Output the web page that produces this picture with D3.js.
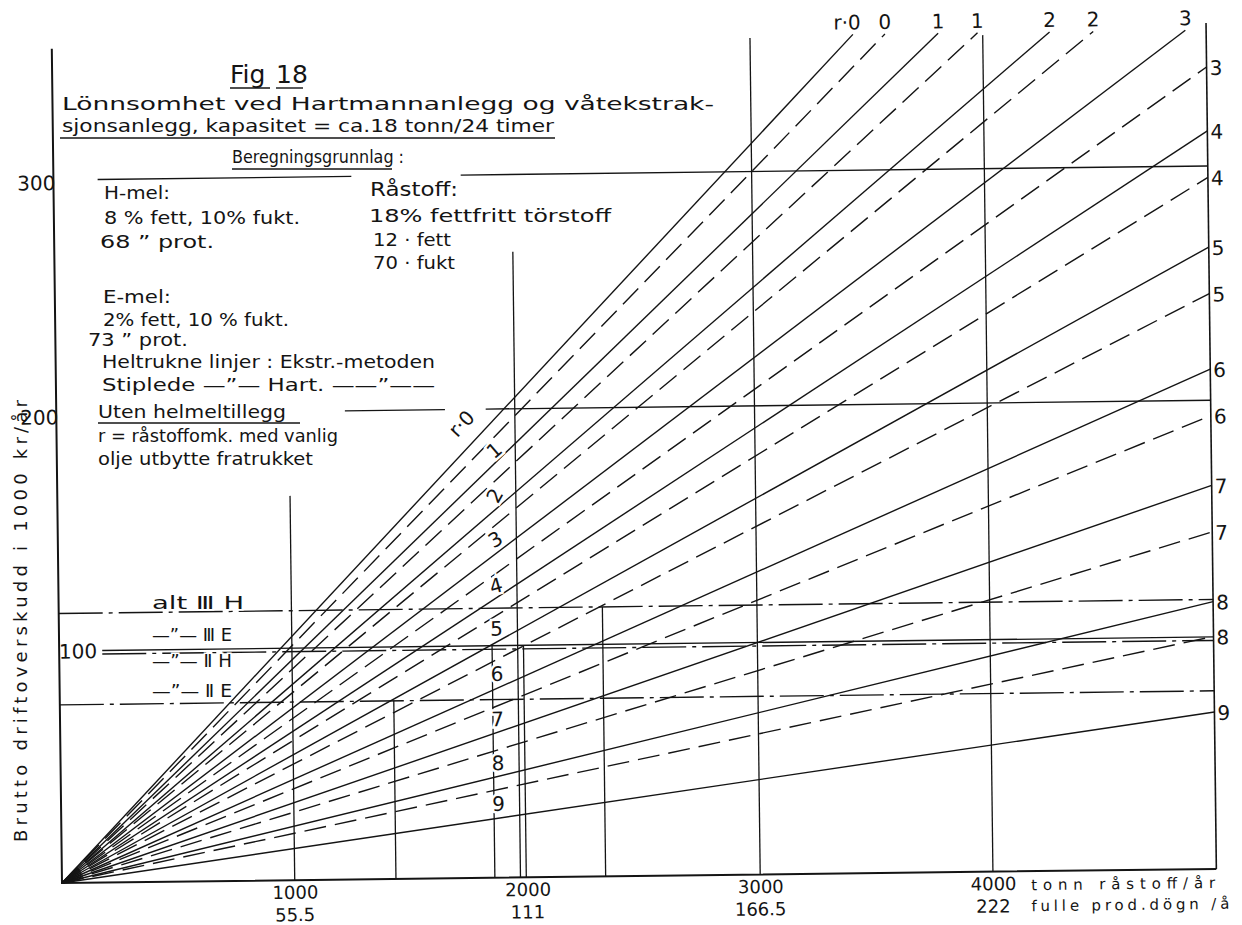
<!DOCTYPE html>
<html>
<head>
<meta charset="utf-8">
<script src="https://cdn.jsdelivr.net/npm/d3@7"></script>
<style>
  body { margin: 0; background: #fff; }
  svg { display: block; font-family: "DejaVu Sans", sans-serif; }
  text { fill: #141414; }
</style>
</head>
<body>
<script>
// r = råstoffomkostning
const rValues = [0, 1, 2, 3, 4, 5, 6, 7, 8, 9];
// brutto driftoverskudd, kr pr. tonn råstoff (heltrukne = Ekstr., stiplede = Hart.)
const ekstrSlope = [104, 94, 83.5, 73.5, 63.5, 53.5, 43, 33, 23, 13.5];
const hartSlope = [100, 90, 80, 69, 59.5, 49.5, 39, 29, 20];

const xTicks = [1000, 2000, 3000, 4000];
const xTickDays = ["55.5", "111", "166.5", "222"];
const yTicks = [100, 200, 300];

// alternativer, 1000 kr/år
const altNames = ["alt Ⅲ H", "—\u201d— Ⅲ E", "—\u201d— Ⅱ H", "—\u201d— Ⅱ E"];
const altValues = [115, 99, 97.5, 76];

// loddrette linjer: tonn/år og øvre ende (1000 kr)
const gridX = [1000, 1435, 1860, 1970, 1995, 2336, 3000, 4000];
const gridTop = [164, 76, 99, 267, 99, 115, 357, 357];

// vannrette linjer ved 300 og 200, segmenter i tonn
const line300 = [[190, 1280], [1750, 4960]];
const line200 = [[1240, 1670], [1845, 4960]];

const xMax = 4960, yTop = 358;

const width = 1242, height = 925;
const svg = d3.select("body").append("svg")
  .attr("width", width)
  .attr("height", height);

const x = d3.scaleLinear().domain([0, 4000]).range([62, 993]);
const y = d3.scaleLinear().domain([0, 300]).range([883, 180]);

// the photocopy is slightly skewed
const g = svg.append("g")
  .attr("transform", `rotate(-0.7,${x(0)},${y(0)})`)
  .attr("stroke", "#141414")
  .attr("fill", "none");

const line = d3.line().x(d => x(d[0])).y(d => y(d[1]));

// frame
g.append("path").attr("d", line([[0, 356], [0, 0], [xMax, 0]])).attr("stroke-width", 2);
g.append("path").attr("d", line([[xMax, 0], [xMax, 361]])).attr("stroke-width", 1.6);

// vertical lines
g.selectAll(".grid").data(gridX).join("path")
  .attr("class", "grid")
  .attr("d", (d, i) => line([[d, 0], [d, gridTop[i]]]))
  .attr("stroke-width", 1.3);

// horizontal 300 / 200
[line300, line200].forEach((segs, k) => {
  const v = k === 0 ? 300 : 200;
  segs.forEach(s => {
    g.append("path").attr("d", line([[s[0], v], [s[1], v]])).attr("stroke-width", 1.4);
  });
});

// alternatives
const altSolid = [false, true, false, false];
const altStart = [0, 185, 185, 0];
altValues.forEach((v, i) => {
  g.append("path")
    .attr("d", line([[altStart[i], v], [xMax, v]]))
    .attr("stroke-width", 1.4)
    .attr("stroke-dasharray", altSolid[i] ? null : "44,6,4,6");
});

function rayEnd(s) {
  const xe = Math.min(xMax, yTop / s * 1000);
  return [xe, s * xe / 1000];
}

// rays
g.selectAll(".ekstr").data(ekstrSlope).join("path")
  .attr("class", "ekstr")
  .attr("d", s => line([[0, 0], rayEnd(s)]))
  .attr("stroke-width", 1.4);

g.selectAll(".hart").data(hartSlope).join("path")
  .attr("class", "hart")
  .attr("d", s => line([[0, 0], rayEnd(s)]))
  .attr("stroke-width", 1.4)
  .attr("stroke-dasharray", "22,9");

// end labels
const tg = svg.append("g")
  .attr("transform", `rotate(-0.7,${x(0)},${y(0)})`)
  .style("font-size", "20px");

function endLabel(s, r, isEkstr) {
  const e = rayEnd(s);
  const t = tg.append("text");
  if (e[0] < xMax) {
    t.attr("x", x(e[0]) + (isEkstr && r === 0 ? 8 : 0))
      .attr("y", y(e[1]) - 5)
      .attr("text-anchor", isEkstr && r === 0 ? "end" : "middle");
  } else {
    t.attr("x", x(xMax) + 3).attr("y", y(e[1]) + 8);
  }
  t.text(isEkstr && r === 0 ? "r·0" : r);
}
ekstrSlope.forEach((s, r) => endLabel(s, r, true));
hartSlope.forEach((s, r) => endLabel(s, r, false));

// labels along the rays
const colLabelX = rValues.map(r => r === 0 ? 1740 : 1880);
const colLabelTilt = [-46, -40, -60, -30, -15, 0, 0, 0, 0, 0];
rValues.forEach(r => {
  const xv = colLabelX[r];
  const yv = r === 0 ? ekstrSlope[0] * xv / 1000 + 13
    : (ekstrSlope[r] + hartSlope[r - 1]) / 2 * xv / 1000;
  tg.append("text")
    .attr("transform", `translate(${x(xv)},${y(yv)}) rotate(${colLabelTilt[r]})`)
    .attr("text-anchor", "middle")
    .attr("dominant-baseline", "central")
    .attr("stroke", "#fff").attr("stroke-width", 5).attr("paint-order", "stroke")
    .text(r === 0 ? "r·0" : r);
});

// x axis
const xAxis = tg.append("g")
  .attr("transform", `translate(0,${y(0)})`)
  .call(d3.axisBottom(x).tickValues(xTicks).tickSize(0).tickPadding(6).tickFormat(d => d));
xAxis.select(".domain").remove();
xAxis.selectAll("text").style("font-size", "18px").style("font-family", "DejaVu Sans")
  .attr("fill", "#141414").attr("dy", "0.7em");
tg.selectAll(".days").data(xTicks).join("text")
  .attr("class", "days")
  .attr("x", d => x(d)).attr("y", y(0) + 41)
  .attr("text-anchor", "middle")
  .style("font-size", "18px")
  .text((d, i) => xTickDays[i]);
tg.append("text").attr("x", x(4000) + 38).attr("y", y(0) + 19)
  .style("font-size", "15px").attr("textLength", 184).text("tonn råstoff/år");
tg.append("text").attr("x", x(4000) + 38).attr("y", y(0) + 40)
  .style("font-size", "15px").attr("textLength", 198).text("fulle prod.dögn /å");

// y tick labels
const yTickDx = [38, 2, 2];
tg.selectAll(".ytl").data(yTicks).join("text")
  .attr("class", "ytl")
  .attr("x", (d, i) => x(0) + yTickDx[i]).attr("y", d => y(d) + 10)
  .attr("text-anchor", "end")
  .style("font-size", "20px")
  .text(d => d);

// y axis title
svg.append("text")
  .attr("transform", "translate(27,621) rotate(-90)")
  .attr("text-anchor", "middle")
  .attr("textLength", 442)
  .style("font-size", "18px")
  .text("Brutto driftoverskudd i 1000 kr/år");

// text block
function txt(s, xx, yy, size, len) {
  const t = svg.append("text").attr("x", xx).attr("y", yy)
    .style("font-size", size + "px").text(s);
  if (len) t.attr("textLength", len).attr("lengthAdjust", "spacingAndGlyphs");
  return t;
}
function rule(x1, x2, yy, w) {
  svg.append("line").attr("x1", x1).attr("x2", x2).attr("y1", yy).attr("y2", yy)
    .attr("stroke", "#141414").attr("stroke-width", w || 1.4);
}
txt("Fig", 230, 83, 25);
txt("18", 276, 83, 25);
rule(230, 270, 88); rule(276, 303, 88);
txt("Lönnsomhet ved Hartmannanlegg og våtekstrak-", 62, 110, 18.5, 652);
txt("sjonsanlegg, kapasitet = ca.18 tonn/24 timer", 62, 132, 18.5, 492);
rule(60, 555, 138, 1.6);
txt("Beregningsgrunnlag :", 232, 163, 18, 172);
rule(232, 392, 169);
txt("H-mel:", 104, 199, 18, 66);
txt("8 % fett, 10% fukt.", 104, 224, 18, 196);
txt("68 \u201d prot.", 100, 248, 18, 114);
txt("Råstoff:", 370, 196, 19, 88);
txt("18% fettfritt törstoff", 369, 222, 18, 242);
txt("12 · fett", 373, 246, 18, 78);
txt("70 · fukt", 373, 269, 18, 82);
txt("E-mel:", 103, 303, 18, 68);
txt("2% fett, 10 % fukt.", 103, 326, 18, 186);
txt("73 \u201d prot.", 88, 346, 18, 100);
txt("Heltrukne linjer : Ekstr.-metoden", 102, 368, 18, 333);
txt("Stiplede  —\u201d—  Hart.  ——\u201d——", 102, 391, 18, 333);
txt("Uten helmeltillegg", 98, 418, 18, 188);
rule(98, 300, 423);
txt("r = råstoffomk. med vanlig", 98, 442, 18, 240);
txt("olje utbytte fratrukket", 98, 465, 18, 215);

// alternative labels
const altLabelY = [609, 641, 667, 697];
altNames.forEach((n, i) => {
  txt(n, 152, altLabelY[i], 18, i === 0 ? 92 : 80)
    .attr("stroke", "#fff").attr("stroke-width", 3).attr("paint-order", "stroke");
});
</script>
</body>
</html>
